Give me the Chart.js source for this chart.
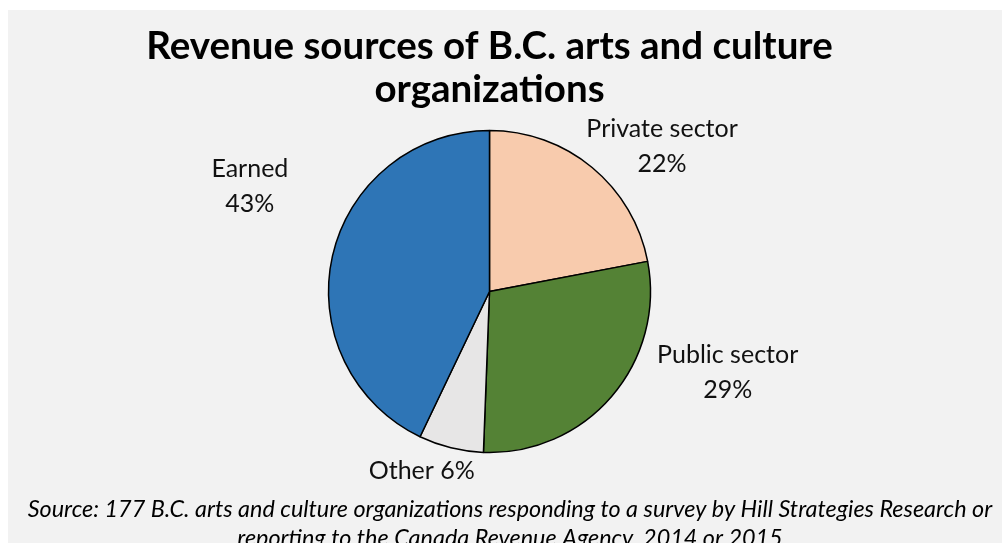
<!DOCTYPE html>
<html>
<head>
<meta charset="utf-8">
<script src="https://cdn.jsdelivr.net/npm/chart.js@4.4.1/dist/chart.umd.min.js"></script>
<style>
  body { margin: 0; background: #ffffff; }
  #panel { position: absolute; left: 8px; top: 10px; width: 994px; height: 533px; background: #f2f2f2; overflow: hidden; }
</style>
</head>
<body>
<div id="panel"><canvas id="chart" width="994" height="533"></canvas></div>
<script>
const categories = ["Private sector", "Public sector", "Other", "Earned"];
const shares = [22.0, 28.6, 6.5, 42.9];
const shareLabels = ["22%", "29%", "6%", "43%"];
const sliceColors = ["#f8cbad", "#548235", "#e7e6e6", "#2e75b6"];
const titleLines = ["Revenue sources of B.C. arts and culture", "organizations"];
const sourceLines = [
  "Source: 177 B.C. arts and culture organizations responding to a survey by Hill Strategies Research or",
  "reporting to the Canada Revenue Agency, 2014 or 2015"
];

// label placement: nudge from slice mid-angle (deg) and distance in radii
const labelNudge = [8.5, -23.9, 6.0, 12.8];
const labelDist = [1.44, 1.545, 1.238, 1.65];
const labelSingleLine = [false, false, true, false];

const sliceLabels = {
  id: "sliceLabels",
  afterDatasetsDraw(chart) {
    const ctx = chart.ctx;
    const arcs = chart.getDatasetMeta(0).data;
    ctx.save();
    ctx.font = "25px Lato";
    ctx.fillStyle = "#111111";
    ctx.textAlign = "center";
    ctx.textBaseline = "alphabetic";
    arcs.forEach((arc, i) => {
      const mid = (arc.startAngle + arc.endAngle) / 2 + labelNudge[i] * Math.PI / 180;
      const r = arc.outerRadius * labelDist[i];
      const x = arc.x + r * Math.cos(mid);
      const y = arc.y + r * Math.sin(mid);
      if (labelSingleLine[i]) {
        ctx.fillText(categories[i] + " " + shareLabels[i], x, y);
      } else {
        ctx.fillText(categories[i], x, y);
        ctx.fillText(shareLabels[i], x, y + 35);
      }
    });
    // source note
    ctx.font = "italic 23.4px Lato";
    ctx.fillStyle = "#000000";
    ctx.fillText(sourceLines[0], 502, 506.7);
    ctx.fillText(sourceLines[1], 502, 535.7);
    ctx.restore();
  }
};

new Chart(document.getElementById("chart"), {
  type: "pie",
  data: {
    labels: categories,
    datasets: [{
      data: shares,
      backgroundColor: sliceColors,
      borderColor: "#000000",
      borderWidth: 1.5
    }]
  },
  options: {
    responsive: false,
    animation: false,
    radius: 161,
    layout: { padding: { left: 0, right: 31, top: 0, bottom: 71 } },
    plugins: {
      legend: { display: false },
      tooltip: { enabled: false },
      title: {
        display: true,
        text: titleLines,
        color: "#000000",
        font: { family: "Lato", size: 38.5, weight: "bold", lineHeight: 1.11 },
        padding: { top: 15.6, bottom: 0 }
      }
    }
  },
  plugins: [sliceLabels]
});
</script>
</body>
</html>
